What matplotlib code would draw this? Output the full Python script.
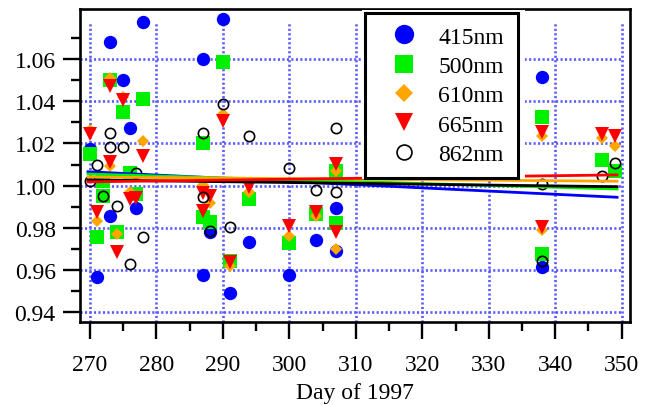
import matplotlib
matplotlib.use("Agg")
import matplotlib.pyplot as plt
from matplotlib.patches import Rectangle

plt.rcParams['font.family'] = ['Liberation Serif', 'DejaVu Serif']
plt.rcParams['font.size'] = 17

# Normalised calibration ratio per channel versus day of year
days_415 = [270, 271, 273, 273, 275, 276, 277, 278, 287, 287, 288, 290, 291, 294, 300, 304, 307, 307, 338, 338]
vals_415 = [1.0174, 0.9566, 1.0680, 0.9858, 1.0501, 1.0272, 0.9893, 1.0777, 1.0600, 0.9578,
            0.9782, 1.0790, 0.9490, 0.9732, 0.9578, 0.9744, 0.9894, 0.9692, 1.0514, 0.9613]

days_500 = [270, 271, 272, 272, 273, 274, 275, 276, 277, 278, 287, 287, 288, 290, 291, 294,
            300, 304, 307, 307, 338, 338, 347, 349]
vals_500 = [1.0150, 0.9755, 0.9953, 1.0020, 1.0502, 0.9782, 1.0351, 1.0060, 0.9960, 1.0410,
            1.0201, 0.9850, 0.9826, 1.0588, 0.9645, 0.9937, 0.9728, 0.9866, 1.0068, 0.9822,
            1.0326, 0.9676, 1.0123, 1.0071]

days_610 = [270, 271, 273, 273, 274, 275, 276, 278, 287, 288, 290, 291, 294, 300, 304, 307,
            307, 338, 338, 347, 349]
vals_610 = [1.0264, 0.9834, 1.0510, 1.0095, 0.9771, 1.0420, 0.9969, 1.0213, 1.0005, 0.9917,
            1.0340, 0.9620, 0.9969, 0.9760, 0.9858, 1.0071, 0.9700, 1.0235, 0.9791, 1.0224, 1.0190]

days_665 = [270, 271, 273, 273, 274, 275, 276, 277, 278, 287, 287, 288, 290, 291, 294, 300,
            304, 307, 307, 338, 338, 347, 349]
vals_665 = [1.0245, 0.9874, 1.0470, 1.0110, 0.9684, 1.0406, 0.9937, 0.9940, 1.0142, 0.9967,
            0.9882, 0.9950, 1.0308, 0.9637, 0.9995, 0.9808, 0.9877, 1.0103, 0.9779, 1.0255,
            0.9803, 1.0245, 1.0234]

days_862 = [270, 271, 272, 273, 273, 274, 275, 276, 277, 278, 287, 287, 288, 290, 291, 294,
            300, 304, 307, 307, 338, 338, 347, 349]
vals_862 = [1.0020, 1.0098, 0.9950, 1.0248, 1.0185, 0.9905, 1.0185, 0.9629, 1.0060, 0.9755,
            1.0248, 0.9945, 0.9787, 1.0387, 0.9803, 1.0234, 1.0084, 0.9981, 1.0273, 0.9972,
            1.0008, 0.9645, 1.0047, 1.0108]

# Linear trend of each channel: value at the first and last day of the span
trend_days = [269.7, 349.3]
trend_415 = [1.0066, 0.9945]
trend_500 = [1.0055, 0.9984]
trend_610 = [1.0041, 1.0021]
trend_665 = [1.0018, 1.0051]
trend_862 = [1.0027, 0.9995]

labels = ['415nm', '500nm', '610nm', '665nm', '862nm']
x_ticks = [270, 280, 290, 300, 310, 320, 330, 340, 350]
y_ticks = [0.94, 0.96, 0.98, 1.00, 1.02, 1.04, 1.06]

BLUE, GREEN, ORANGE, RED, BLACK = '#0000ff', '#00f000', '#ffa500', '#ff0000', '#000000'

fig = plt.figure(figsize=(6.51, 4.06), dpi=100)
ax = fig.add_axes([80 / 651, 83 / 406, 550 / 651, 313 / 406])
ax.set_xlim(268.5, 351.25)
ax.set_ylim(0.9354, 1.0837)

# dotted blue grid
grid_kw = dict(color='#5a5aff', linewidth=1.9, linestyle=(0, (0.8, 0.9)), zorder=1)
ax.vlines(x_ticks, 0.9354, 1.077, **grid_kw)
ax.hlines(y_ticks, 268.5, 350, **grid_kw)

series = [
    (days_415, vals_415, dict(marker='o', ms=9.6, color=BLUE, mec=BLUE, mew=0)),
    (days_500, vals_500, dict(marker='s', ms=9.4, color=GREEN, mec=GREEN, mew=0)),
    (days_610, vals_610, dict(marker='D', ms=6.2, color=ORANGE, mec=ORANGE, mew=0)),
    (days_665, vals_665, dict(marker='v', ms=9.4, color=RED, mec=RED, mew=0)),
    (days_862, vals_862, dict(marker='o', ms=7.4, color='none', mfc='none', mec=BLACK, mew=1.2)),
]
handles = []
for (d, v, kw), lab in zip(series, labels):
    h, = ax.plot(d, v, linestyle='none', label=lab, zorder=3, **kw)
    handles.append(h)

for tv, c in zip([trend_415, trend_500, trend_610, trend_862, trend_665],
                 [BLUE, GREEN, ORANGE, BLACK, RED]):
    ax.plot(trend_days, tv, color=c, linewidth=2.0, zorder=4)

# white backing under the legend box
ax.add_patch(Rectangle((0.5127, 0.456), 0.296, 0.54, transform=ax.transAxes,
                       facecolor='white', edgecolor='none', zorder=5))

leg = ax.legend(handles=handles, loc='upper left',
                bbox_to_anchor=(0.518, 0.473, 0.278, 0.514), mode='expand',
                markerscale=1.45, frameon=True, fancybox=False, edgecolor='black',
                framealpha=1, borderpad=0.55, labelspacing=0.33, handlelength=2.2,
                handletextpad=0.35, borderaxespad=0, fontsize=17)
leg.get_frame().set_linewidth(2.2)
leg.set_zorder(6)

ax.set_xticks(x_ticks)
ax.set_xticks([275, 285, 295, 305, 315, 325, 335, 345], minor=True)
ax.set_yticks(y_ticks)
ax.set_yticklabels([f'{t:.2f}' for t in y_ticks])
ax.set_yticks([0.95, 0.97, 0.99, 1.01, 1.03, 1.05, 1.07], minor=True)
ax.tick_params(which='major', direction='out', length=12, width=1.7)
ax.tick_params(which='minor', direction='out', length=6.5, width=1.7)
ax.tick_params(axis='x', which='major', pad=11)
ax.tick_params(axis='y', which='major', pad=5.5)
for s in ax.spines.values():
    s.set_linewidth(1.9)

ax.set_xlabel('Day of 1997', labelpad=5)

fig.savefig('out.png', dpi=100)
